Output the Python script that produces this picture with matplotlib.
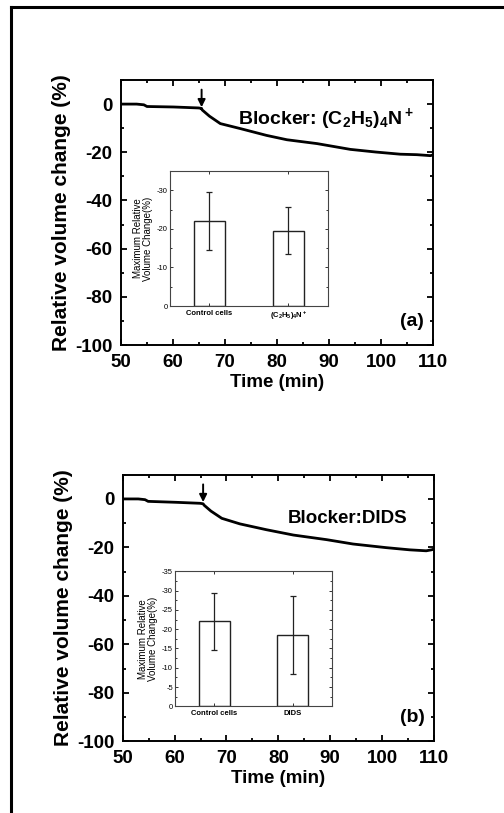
import matplotlib
matplotlib.use("Agg")
import matplotlib.pyplot as plt
from matplotlib.ticker import MultipleLocator, FuncFormatter
from matplotlib.lines import Line2D

plt.rcParams['font.family'] = ['Liberation Sans', 'DejaVu Sans']
plt.rcParams['mathtext.fontset'] = 'custom'
plt.rcParams['mathtext.rm'] = 'Liberation Sans:bold'
plt.rcParams['mathtext.bf'] = 'Liberation Sans:bold'
plt.rcParams['mathtext.it'] = 'Liberation Sans:bold'
plt.rcParams['mathtext.default'] = 'rm'
plt.rcParams['axes.unicode_minus'] = False

# ---- data ----
time_a = [50.0, 53.0, 54.4, 55.0, 60.1, 64.9, 65.5, 65.6, 67.0, 69.1, 73.0, 78.0, 81.9, 87.7, 94.1, 99.0, 103.7, 106.9, 109.5, 110.0]
vol_a = [0.0, 0.0, -0.3, -1.0, -1.2, -1.6, -1.8, -2.4, -5.0, -8.1, -10.2, -13.0, -14.8, -16.4, -18.8, -19.9, -20.8, -21.0, -21.4, -21.1]
time_b = [50.0, 53.0, 54.3, 54.9, 60.4, 64.9, 65.5, 65.7, 67.0, 69.1, 72.6, 77.7, 82.9, 89.3, 94.4, 100.8, 105.3, 108.5, 109.5, 110.0]
vol_b = [0.0, 0.0, -0.3, -1.0, -1.4, -1.8, -2.0, -2.6, -5.0, -8.0, -10.3, -12.7, -14.9, -16.8, -18.6, -20.1, -21.0, -21.4, -21.0, -20.7]
arrow_time = 65.5

cats_a = ['Control cells', '(C$_2$H$_5$)$_4$N$^+$']
max_a = [-22.0, -19.5]
err_a = [7.5, 6.1]
cats_b = ['Control cells', 'DIDS']
max_b = [-22.0, -18.5]
err_b = [7.5, 10.0]

W, H = 504, 813
fig = plt.figure(figsize=(W / 100, H / 100), dpi=100)

def fa(l, t, r, b):
    return [l / W, 1 - b / H, (r - l) / W, (b - t) / H]

# outer partial frame
fig.add_artist(Line2D([11 / W, 11 / W], [0, 1 - 7 / H], transform=fig.transFigure, color='black', lw=2.2))
fig.add_artist(Line2D([11 / W, 1], [1 - 7 / H, 1 - 7 / H], transform=fig.transFigure, color='black', lw=2.2))


def main_axes(rect, t, v, label, panel, txt_xy, txt_size):
    ax = fig.add_axes(rect)
    ax.plot(t, v, color='black', lw=2.0)
    ax.set_xlim(50, 110)
    ax.set_ylim(-100, 10)
    ax.xaxis.set_major_locator(MultipleLocator(10))
    ax.xaxis.set_minor_locator(MultipleLocator(5))
    ax.yaxis.set_major_locator(MultipleLocator(20))
    ax.yaxis.set_minor_locator(MultipleLocator(10))
    ax.tick_params(which='both', direction='in', top=True, right=True, width=1.3)
    ax.tick_params(which='major', length=4.5, labelsize=13.5)
    ax.tick_params(axis='x', which='major', pad=6.5)
    ax.tick_params(axis='y', which='major', pad=6)
    ax.tick_params(which='minor', length=2.5)
    for lab in ax.get_xticklabels() + ax.get_yticklabels():
        lab.set_fontweight('bold')
    for s in ax.spines.values():
        s.set_linewidth(1.4)
    ax.set_xlabel('Time (min)', fontsize=13.5, fontweight='bold', labelpad=2)
    ax.set_ylabel('Relative volume change (%)', fontsize=15, fontweight='bold', labelpad=3)
    ax.annotate('', xy=(arrow_time, -1.3), xytext=(arrow_time, 6.0),
                arrowprops=dict(arrowstyle='-|>', color='black', lw=1.4, mutation_scale=11,
                                shrinkA=0, shrinkB=0))
    ax.text(txt_xy[0], txt_xy[1], label, fontsize=txt_size, fontweight='bold', va='center', ha='left')
    ax.text(0.97, 0.09, panel, transform=ax.transAxes, fontsize=14, fontweight='bold', ha='right', va='center')
    return ax


def inset(rect, cats, vals, errs, ystep, yminor):
    ax = fig.add_axes(rect)
    x = [1, 2]
    ax.bar(x, vals, width=0.4, color='white', edgecolor='#222222', linewidth=1.0)
    ax.errorbar(x, vals, yerr=errs, fmt='none', ecolor='#222222', elinewidth=0.9, capsize=2, capthick=0.9)
    ax.set_xlim(0.5, 2.5)
    ax.set_ylim(0, -35)
    ax.set_xticks(x)
    ax.set_xticklabels(cats, fontsize=7, fontweight='bold')
    ax.yaxis.set_major_locator(MultipleLocator(ystep))
    ax.yaxis.set_minor_locator(MultipleLocator(yminor))
    ax.yaxis.set_major_formatter(FuncFormatter(lambda v, p: '%d' % round(v)))
    ax.tick_params(which='both', direction='in', top=True, right=True, width=0.7, colors='#333333', labelcolor='black')
    ax.tick_params(which='major', length=2.5, labelsize=5.5, pad=1.5)
    ax.tick_params(axis='x', which='major', pad=3)
    ax.tick_params(which='minor', length=1.5)
    for s in ax.spines.values():
        s.set_linewidth(0.8)
        s.set_color('#444444')
    ax.set_ylabel('Maximum Relative\nVolume Change(%)', fontsize=7, labelpad=3, linespacing=1.0)
    return ax


main_axes(fa(121, 80, 433, 345), time_a, vol_a, 'Blocker: (C$_2$H$_5$)$_4$N$^+$', '(a)', (72.5, -6.0), 14)
inset(fa(170, 171, 327.7, 306), cats_a, max_a, err_a, 10, 5)

main_axes(fa(122.7, 474.7, 434, 741.3), time_b, vol_b, 'Blocker:DIDS', '(b)', (81.8, -8.0), 13.5)
inset(fa(175, 571.3, 331.7, 706.3), cats_b, max_b, err_b, 5, 2.5)

fig.savefig('out.png', dpi=100)
